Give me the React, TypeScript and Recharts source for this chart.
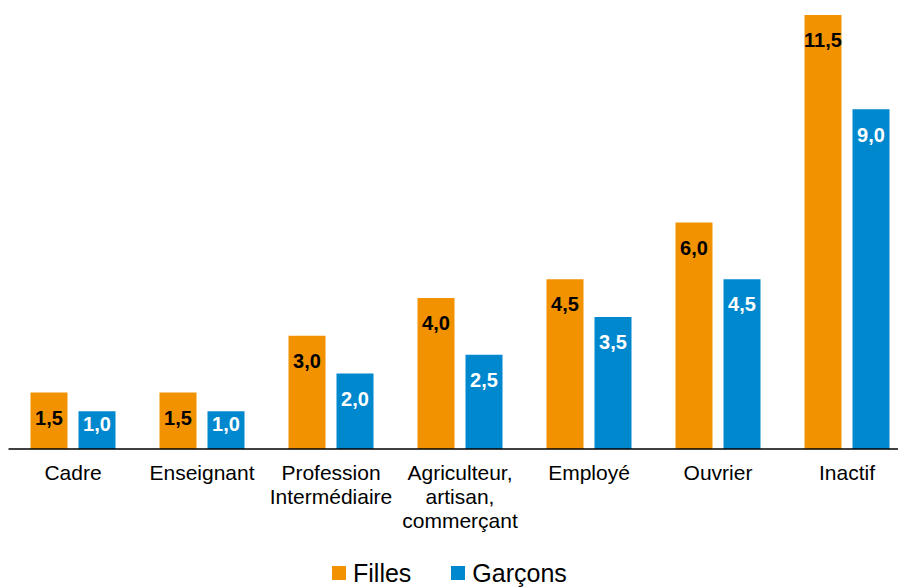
import { BarChart, Bar, XAxis, YAxis, LabelList, Legend } from 'recharts'

const categories = ['Cadre', 'Enseignant', 'Profession Intermédiaire', 'Agriculteur, artisan, commerçant', 'Employé', 'Ouvrier', 'Inactif']
const filles = [1.5, 1.5, 3.0, 4.0, 4.5, 6.0, 11.5]
const garcons = [1.0, 1.0, 2.0, 2.5, 3.5, 4.5, 9.0]

const ORANGE = '#F39200'
const BLUE = '#0088CE'
const FONT = 'Liberation Sans, Arial, sans-serif'

const data = categories.map((c, i) => ({ c, filles: filles[i], garcons: garcons[i] }))

const fmt = (v: number) => v.toFixed(1).replace('.', ',')

function Tick({ x, y, payload }: any) {
  const lines = String(payload.value).split(' ')
  return (
    <text x={x} y={y} textAnchor="middle" fontFamily={FONT} fontSize={21} fill="#000">
      {lines.map((l, i) => (
        <tspan key={i} x={x} dy={i === 0 ? 23 : 24}>{l}</tspan>
      ))}
    </text>
  )
}

// value label near top of the bar, pushed up from the base on short bars
function makeLabel(color: string) {
  return function ValueLabel({ x, y, width, height, value }: any) {
    const bottom = y + height
    const cy = Math.min(y + 25, bottom - 25)
    return (
      <text x={x + width / 2} y={cy} dy="0.36em" textAnchor="middle" fontFamily={FONT} fontSize={20} fontWeight="bold" fill={color}>
        {fmt(Number(value))}
      </text>
    )
  }
}

function LegendBox() {
  const item = (color: string, label: string, ml: number) => (
    <span style={{ display: 'inline-flex', alignItems: 'center', marginLeft: ml }}>
      <span style={{ width: 14, height: 14, background: color, display: 'inline-block', marginRight: 7 }} />
      <span style={{ fontSize: 25, color: '#000' }}>{label}</span>
    </span>
  )
  return (
    <div style={{ fontFamily: FONT, height: 30, display: 'flex', alignItems: 'center', paddingLeft: 323.5 }}>
      {item(ORANGE, 'Filles', 0)}
      {item(BLUE, 'Garçons', 40)}
    </div>
  )
}

export default function App() {
  return (
    <div style={{ position: 'absolute', left: 0, top: 0, width: 898, height: 588, overflow: 'hidden', background: '#fff' }}>
      <BarChart
        width={920}
        height={588}
        data={data}
        margin={{ top: 15, right: 8.5, bottom: 0, left: 8.5 }}
        barGap={11}
        barCategoryGap={22}
      >
        <XAxis dataKey="c" tick={<Tick />} tickLine={false} axisLine={{ stroke: '#000', strokeWidth: 1.5 }} height={109} interval={0} />
        <YAxis hide domain={[0, 11.5]} />
        <Legend verticalAlign="bottom" height={30} content={<LegendBox />} />
        <Bar dataKey="filles" fill={ORANGE} isAnimationActive={false}>
          <LabelList dataKey="filles" content={makeLabel('#000')} />
        </Bar>
        <Bar dataKey="garcons" fill={BLUE} isAnimationActive={false}>
          <LabelList dataKey="garcons" content={makeLabel('#fff')} />
        </Bar>
      </BarChart>
    </div>
  )
}
